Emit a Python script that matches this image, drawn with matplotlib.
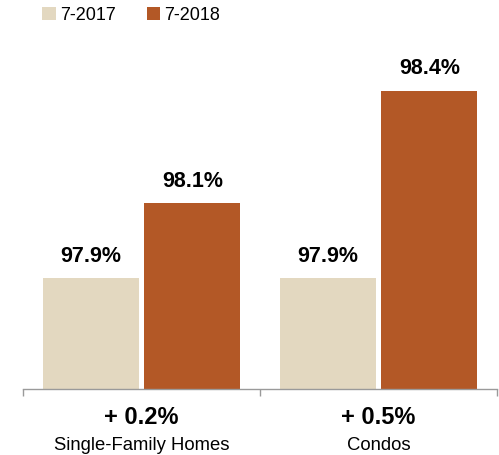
import numpy as np
import matplotlib.pyplot as plt

plt.rcParams['font.family'] = ['Liberation Sans', 'DejaVu Sans']

categories = ['Single-Family Homes', 'Condos']
series_names = ['7-2017', '7-2018']
pct_2017 = [97.9, 97.9]
pct_2018 = [98.1, 98.4]

BEIGE = '#E3D8C0'
RUST = '#B35826'
AXIS_GREY = '#9A9A9A'

fig = plt.figure(figsize=(4.99, 4.55), dpi=100)
ax = fig.add_axes([23 / 499, 66 / 455, 474 / 499, 349 / 455])

x = np.arange(len(categories))
width = 0.405
offset = 0.215

bars_a = ax.bar(x - offset, pct_2017, width, color=BEIGE, label=series_names[0])
bars_b = ax.bar(x + offset, pct_2018, width, color=RUST, label=series_names[1])

ax.set_xlim(-0.5, len(categories) - 0.5)
ax.set_ylim(97.605, 98.535)

# value labels above each bar
for bars in (bars_a, bars_b):
    for b in bars:
        v = b.get_height()
        ax.annotate(f'{v:.1f}%', (b.get_x() + b.get_width() / 2, v),
                    xytext=(0, 15.8), textcoords='offset points',
                    ha='center', va='center', fontsize=15.5, fontweight='bold')

# change + category name under the axis
for i, cat in enumerate(categories):
    diff = pct_2018[i] - pct_2017[i]
    ax.annotate(f'+ {diff:.1f}%', (i, 0), xycoords=('data', 'axes fraction'),
                xytext=(0, -20.5), textcoords='offset points',
                ha='center', va='center', fontsize=17, fontweight='bold')
    ax.annotate(cat, (i, 0), xycoords=('data', 'axes fraction'),
                xytext=(0, -41), textcoords='offset points',
                ha='center', va='center', fontsize=13.3)

for s in ('top', 'right', 'left'):
    ax.spines[s].set_visible(False)
ax.spines['bottom'].set_color(AXIS_GREY)
ax.spines['bottom'].set_linewidth(1.0)
ax.set_yticks([])
ax.set_xticks(np.arange(len(categories) + 1) - 0.5)
ax.set_xticklabels([])
ax.tick_params(axis='x', direction='out', length=5, color=AXIS_GREY, width=1.0)

fig.legend(loc='upper left', bbox_to_anchor=(42 / 499, 1 - 7 / 455), ncol=2,
           frameon=False, fontsize=13, handlelength=0.75, handleheight=0.75,
           handletextpad=0.25, columnspacing=1.7, borderpad=0, borderaxespad=0)

fig.savefig('out.png', dpi=100)
